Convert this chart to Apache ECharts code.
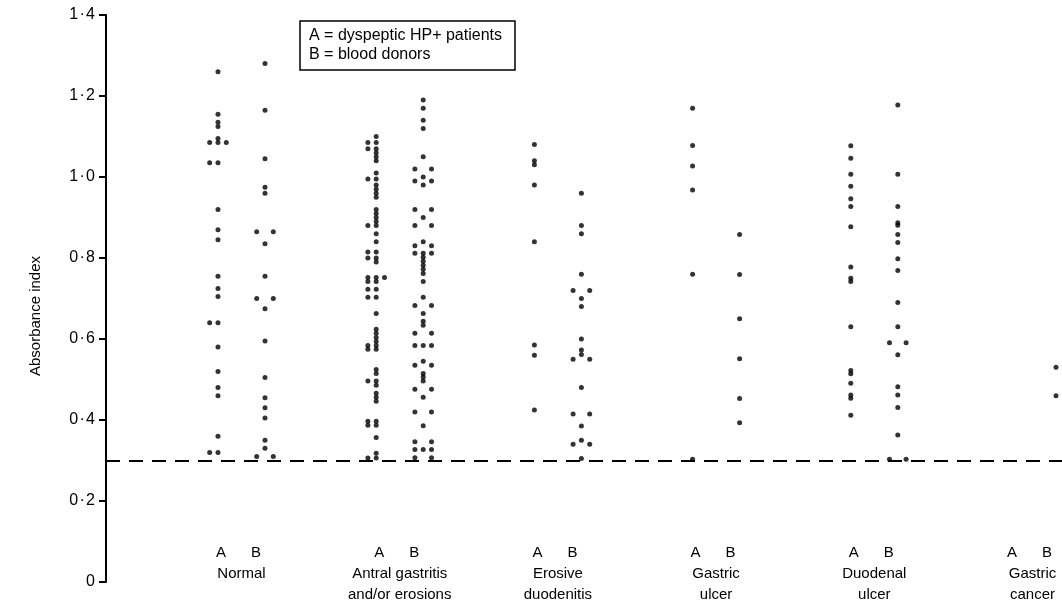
<!DOCTYPE html>
<html>
<head>
<meta charset="utf-8">
<script src="https://cdn.jsdelivr.net/npm/echarts@6/dist/echarts.min.js"></script>
<style>
html,body{margin:0;padding:0;background:#fff;}
#c{width:1062px;height:612px;}
</style>
</head>
<body>
<div id="c"></div>
<script>
// ---- data (absorbance index) ----
var categories = ['Normal', 'Antral gastritis\nand/or erosions', 'Erosive\nduodenitis', 'Gastric\nulcer', 'Duodenal\nulcer', 'Gastric\ncancer'];
var yTicks = [0, 0.2, 0.4, 0.6, 0.8, 1.0, 1.2, 1.4];
var cutoff = 0.30;

var normalA = [1.26, 1.155, 1.135, 1.125, 1.095, 1.085, 1.085, 1.085, 1.035, 1.035, 0.92, 0.87, 0.845, 0.755, 0.725, 0.705, 0.64, 0.64, 0.58, 0.52, 0.48, 0.46, 0.36, 0.32, 0.32];
var normalB = [1.28, 1.165, 1.045, 0.975, 0.96, 0.865, 0.865, 0.835, 0.755, 0.70, 0.70, 0.675, 0.595, 0.505, 0.455, 0.43, 0.405, 0.35, 0.33, 0.31, 0.31];

var antralA = [1.10, 1.085, 1.085, 1.07, 1.07, 1.06, 1.05, 1.04, 1.01, 0.995, 0.995, 0.98, 0.97, 0.96, 0.95, 0.92, 0.91, 0.90, 0.89, 0.88, 0.88, 0.86, 0.84, 0.815, 0.815, 0.80, 0.80, 0.79, 0.752, 0.752, 0.752, 0.742, 0.742, 0.723, 0.723, 0.703, 0.703, 0.663, 0.624, 0.614, 0.604, 0.594, 0.584, 0.584, 0.575, 0.575, 0.525, 0.515, 0.496, 0.496, 0.486, 0.466, 0.456, 0.446, 0.397, 0.397, 0.387, 0.387, 0.357, 0.318, 0.306, 0.306];
var antralB = [1.19, 1.17, 1.14, 1.12, 1.05, 1.02, 1.02, 1.00, 0.99, 0.99, 0.98, 0.92, 0.92, 0.90, 0.88, 0.88, 0.84, 0.83, 0.83, 0.812, 0.812, 0.812, 0.802, 0.792, 0.782, 0.772, 0.762, 0.742, 0.703, 0.683, 0.683, 0.663, 0.644, 0.634, 0.614, 0.614, 0.584, 0.584, 0.584, 0.545, 0.535, 0.535, 0.515, 0.506, 0.496, 0.476, 0.476, 0.456, 0.42, 0.42, 0.386, 0.346, 0.346, 0.327, 0.327, 0.327, 0.307, 0.307];

var erosiveA = [1.08, 1.04, 1.03, 0.98, 0.84, 0.585, 0.56, 0.425];
var erosiveB = [0.96, 0.88, 0.86, 0.76, 0.72, 0.72, 0.70, 0.68, 0.60, 0.573, 0.562, 0.55, 0.55, 0.48, 0.415, 0.415, 0.385, 0.35, 0.34, 0.34, 0.305];

var gastricUlcerA = [1.17, 1.078, 1.027, 0.968, 0.76, 0.303];
var gastricUlcerB = [0.858, 0.759, 0.65, 0.551, 0.453, 0.393];

var duodenalA = [1.077, 1.046, 1.007, 0.977, 0.946, 0.927, 0.877, 0.778, 0.75, 0.742, 0.63, 0.522, 0.514, 0.491, 0.462, 0.454, 0.412];
var duodenalB = [1.178, 1.007, 0.927, 0.887, 0.881, 0.858, 0.838, 0.798, 0.769, 0.69, 0.63, 0.591, 0.591, 0.561, 0.482, 0.462, 0.431, 0.363, 0.303, 0.303];

var cancerA = [];
var cancerB = [0.53, 0.46];

var groupsA = [normalA, antralA, erosiveA, gastricUlcerA, duodenalA, cancerA];
var groupsB = [normalB, antralB, erosiveB, gastricUlcerB, duodenalB, cancerB];

// ---- layout helpers ----
var colOffset = 0.1486;   // A/B column offset from group centre (x units)
var jitter = 0.0525;      // sideways spread for tied values

function buildPoints(groups, sign, pairPattern) {
  var pts = [];
  groups.forEach(function (vals, g) {
    var counts = {};
    vals.forEach(function (v) { counts[v] = (counts[v] || 0) + 1; });
    var seen = {};
    vals.forEach(function (v) {
      var n = counts[v], k = seen[v] || 0;
      seen[v] = k + 1;
      var pos;
      if (n === 1) pos = 0;
      else if (n === 2) pos = pairPattern[k];
      else pos = k - (n - 1) / 2;
      pts.push([g + sign * colOffset + pos * jitter, v]);
    });
  });
  return pts;
}

var ptsA = buildPoints(groupsA, -1, [-1, 0]);
var ptsB = buildPoints(groupsB, 1, [-1, 1]);

function fmtY(v) {
  if (v === 0) return '0';
  var s = v.toFixed(1).split('.');
  return s[0] + '\u200a\u00b7\u200a' + s[1];
}

var FONT = '"Liberation Sans", Arial, Helvetica, sans-serif';

var chart = echarts.init(document.getElementById('c'), null, { renderer: 'canvas' });
chart.setOption({
  backgroundColor: '#ffffff',
  animation: false,
  grid: { left: 106, right: 0, top: 15, bottom: 30, containLabel: false },
  xAxis: {
    type: 'value',
    min: -0.8565,
    max: 5.1865,
    axisLine: { show: false, onZero: false },
    axisTick: { show: false },
    splitLine: { show: false },
    axisLabel: {
      show: true,
      customValues: [0, 1, 2, 3, 4, 5],
      margin: -40,
      color: '#000',
      fontFamily: FONT,
      fontSize: 15,
      lineHeight: 21,
      formatter: function (val) {
        var idx = Math.round(val);
        var lines = categories[idx].split('\n');
        return '{ab|A      B}\n' + lines.map(function (l) { return '{n|' + l + '}'; }).join('\n');
      },
      rich: {
        ab: { fontFamily: FONT, fontSize: 15, lineHeight: 21, color: '#000', padding: [0, 6, 0, 0] },
        n: { fontFamily: FONT, fontSize: 15, lineHeight: 21, color: '#000' }
      }
    }
  },
  yAxis: {
    type: 'value',
    min: 0,
    max: 1.4,
    interval: 0.2,
    axisLine: { show: true, onZero: false, lineStyle: { color: '#000', width: 2 } },
    axisTick: { show: true, length: 7, lineStyle: { color: '#000', width: 2 } },
    splitLine: { show: false },
    axisLabel: {
      margin: 11,
      color: '#000',
      fontFamily: FONT,
      fontSize: 16,
      formatter: fmtY
    }
  },
  series: [
    {
      name: 'A',
      type: 'scatter',
      symbol: 'circle',
      symbolSize: 5,
      itemStyle: { color: '#000' },
      data: ptsA,
      silent: true,
      markLine: {
        silent: true,
        symbol: ['none', 'none'],
        label: { show: false },
        lineStyle: { color: '#000', width: 2, type: [14, 9] },
        data: [{ yAxis: cutoff }]
      }
    },
    {
      name: 'B',
      type: 'scatter',
      symbol: 'circle',
      symbolSize: 5,
      itemStyle: { color: '#000' },
      data: ptsB,
      silent: true
    }
  ],
  graphic: [
    {
      type: 'text',
      x: 36,
      y: 316,
      rotation: Math.PI / 2,
      style: {
        text: 'Absorbance index',
        fontFamily: FONT,
        fontSize: 15,
        fill: '#000',
        align: 'center',
        verticalAlign: 'middle'
      }
    },
    {
      type: 'rect',
      shape: { x: 300, y: 21, width: 215, height: 49 },
      style: { fill: '#fff', stroke: '#000', lineWidth: 1.5 }
    },
    {
      type: 'text',
      x: 309,
      y: 36,
      style: { text: 'A = dyspeptic HP+ patients', fontFamily: FONT, fontSize: 16, fill: '#000', verticalAlign: 'middle' }
    },
    {
      type: 'text',
      x: 309,
      y: 55,
      style: { text: 'B = blood donors', fontFamily: FONT, fontSize: 16, fill: '#000', verticalAlign: 'middle' }
    }
  ]
});
</script>
</body>
</html>
